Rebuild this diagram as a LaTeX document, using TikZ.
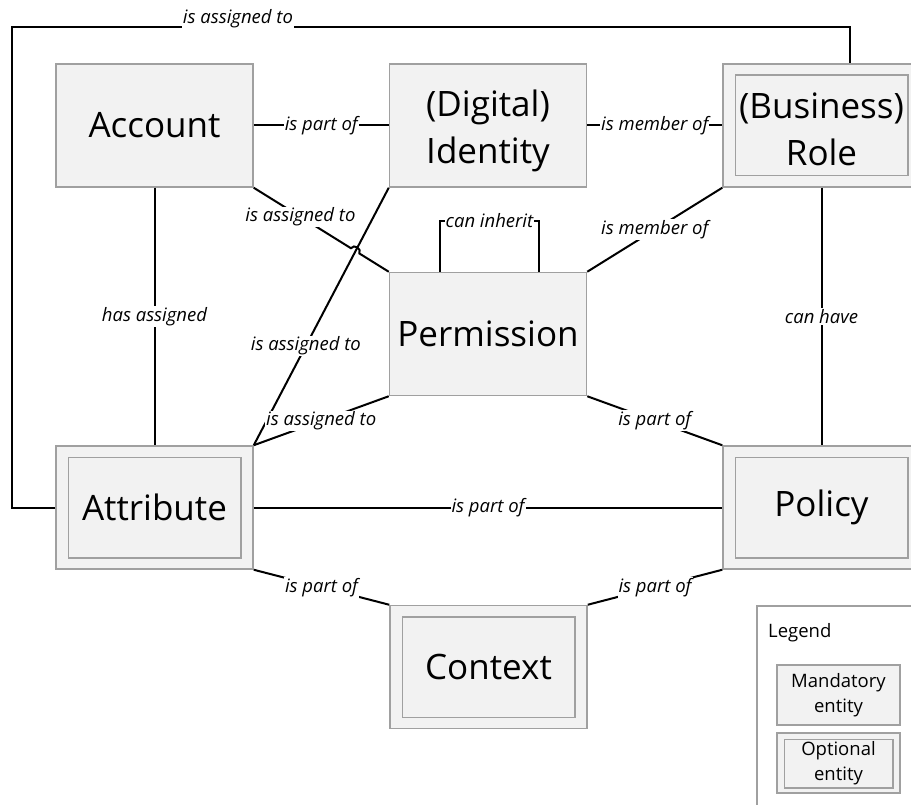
\documentclass[tikz,border=0pt]{standalone}
\usepackage{fontspec}
\setmainfont{Open Sans}
\usetikzlibrary{calc}
\definecolor{boxfill}{HTML}{F2F2F2}
\definecolor{boxline}{HTML}{A0A0A0}

\begin{document}
\begin{tikzpicture}[x=1pt,y=-1pt,
  entity/.style={draw=boxline, line width=1.5pt, fill=boxfill,
    minimum width=197pt, minimum height=123pt, inner sep=0pt,
    align=center, font=\fontsize{35}{47}\selectfont},
  entitytext/.style={inner sep=0pt, align=center, font=\fontsize{35}{47}\selectfont},
  smallentity/.style={draw=boxline, line width=1.5pt, fill=boxfill,
    minimum width=123pt, minimum height=60pt, inner sep=0pt,
    align=center, font=\fontsize{18.5}{25}\selectfont},
  innerframe/.style={draw=boxline, line width=1.5pt},
  conn/.style={line width=2pt, black},
  lbl/.style={fill=white, inner sep=1pt, font=\itshape\fontsize{18.5}{24}\selectfont}]

\useasboundingbox (0,0) rectangle (911,805);

% entities
\node[entity] (acc)   at (154.5,125.5) {Account};
\node[entity] (iden)  at (488,125.5)   {};
\node[entity] (role)  at (821.5,125.5) {};
\node[entity] (perm)  at (488,334)     {Permission};
\node[entity] (attr)  at (154.5,507.5) {Attribute};
\node[entity] (pol)   at (821.5,507.5) {Policy};
\node[entity] (ctx)   at (488.5,667)   {Context};
% two-line captions sit slightly below the box centre
\node[entitytext] (idenTxt) at ([yshift=-5pt]iden.center) {(Digital)\\Identity};
\node[entitytext] (roleTxt) at ([yshift=-4pt]role.center) {(Business)\\Role};

% inner frames of the optional entities
\foreach \n in {role,attr,pol,ctx}
  \draw[innerframe] ([shift={(13,12)}]\n.north west) rectangle ([shift={(-13,-12)}]\n.south east);

% connectors
\draw[conn] (acc.east) -- node[lbl]{is part of} (iden.west);
\draw[conn] (iden.east) -- node[lbl]{is member of} (role.west);
\draw[conn] (acc.south) -- node[lbl]{has assigned} (attr.north);
\draw[conn] (role.south) -- node[lbl]{can have} (pol.north);
\draw[conn] (iden.south west) -- node[lbl, pos=0.614]{is assigned to} (attr.north east);
\draw[conn] (perm.south west) -- node[lbl]{is assigned to} (attr.north east);
\draw[conn] (role.south west) -- node[lbl]{is member of} (perm.north east);
\draw[conn] (perm.south east) -- node[lbl]{is part of} (pol.north west);
\draw[conn] (attr.east) -- node[lbl]{is part of} (pol.west);
\draw[conn] (attr.south east) -- node[lbl]{is part of} (ctx.north west);
\draw[conn] (pol.south west) -- node[lbl]{is part of} (ctx.north east);

% account to permission, hopping over the identity line
\coordinate (hopA) at ($(acc.south east)!0.72!(perm.north west)$);
\coordinate (hopB) at ($(acc.south east)!0.782!(perm.north west)$);
\coordinate (apLbl) at ($(acc.south east)!0.346!(perm.north west)$);
\draw[conn] (acc.south east) -- (hopA) to[bend left=90, looseness=1.4] (hopB) -- (perm.north west);
\node[lbl] at (apLbl) {is assigned to};

% permission inheritance loop
\coordinate (inhL) at ($(perm.north)+(-48,-51)$);
\coordinate (inhR) at ($(perm.north)+(51,-51)$);
\draw[conn] (perm.north -| inhL) -- (inhL) -- node[lbl]{can inherit} (inhR) -- (perm.north -| inhR);

% attribute to role around the top
\coordinate (loopL) at (12,27);
\coordinate (loopR) at (850,27);
\draw[conn] (attr.west) -| (loopL) -- (loopR) -- (loopR |- role.north);
\node[lbl, anchor=base] at (238,24) {is assigned to};

% legend
\draw[draw=boxline, line width=1.2pt, fill=white] (757,606) rectangle (930,830);
\node[anchor=base west, inner sep=0pt, font=\fontsize{18.5}{25}\selectfont] (legtitle) at (768,637) {Legend};
\node[smallentity] (mand) at (838.5,695) {Mandatory\\entity};
\node[smallentity] (opt)  at (838.5,763) {Optional\\entity};
\draw[innerframe] ([shift={(8,7)}]opt.north west) rectangle ([shift={(-8,-6)}]opt.south east);

\end{tikzpicture}
\end{document}
